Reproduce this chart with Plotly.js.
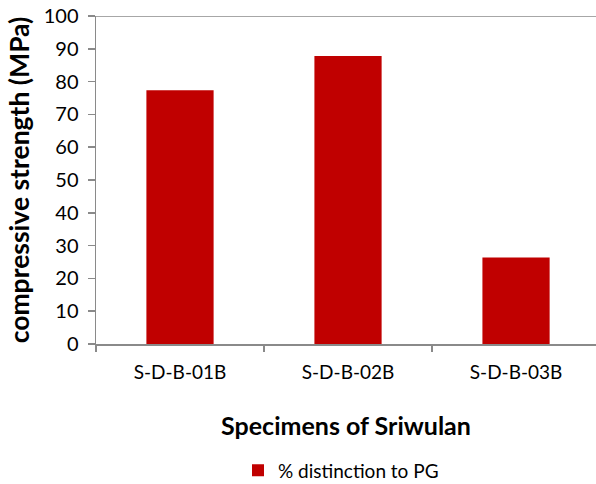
<!DOCTYPE html>
<html>
<head>
<meta charset="utf-8">
<script src="https://cdn.plot.ly/plotly-3.0.1.min.js"></script>
<style>html,body{margin:0;padding:0;background:#fff;}#chart{width:596px;height:484px;}</style>
</head>
<body>
<div id="chart"></div>
<script>
const categories = ["S-D-B-01B", "S-D-B-02B", "S-D-B-03B"];
const values = [77.4, 87.8, 26.4];
const seriesName = "% distinction to PG";
const yTicks = [0, 10, 20, 30, 40, 50, 60, 70, 80, 90, 100];

const FONT = "Lato, 'Open Sans', 'DejaVu Sans', sans-serif";

const data = [{
  type: "bar",
  x: categories,
  y: values,
  name: seriesName,
  marker: {color: "#C00000"},
  showlegend: true,
  hoverinfo: "skip"
}];

const layout = {
  width: 596,
  height: 484,
  margin: {l: 96, r: 0, t: 16, b: 140, autoexpand: false},
  paper_bgcolor: "#ffffff",
  plot_bgcolor: "#ffffff",
  bargap: 0.6,
  font: {family: FONT, color: "#000000", size: 16},
  xaxis: {
    type: "category",
    range: [-0.5, 2.476],
    automargin: false,
    showline: true,
    linecolor: "#8a8a8a",
    linewidth: 1.5,
    ticks: "outside",
    tickson: "boundaries",
    ticklen: 6,
    tickcolor: "#8a8a8a",
    tickwidth: 1.5,
    showgrid: false,
    zeroline: false,
    tickfont: {family: FONT, size: 19, color: "#000"},
    ticklabelstandoff: 11,
    title: {
      text: "<b>Specimens of Sriwulan</b>",
      font: {family: FONT, size: 25, color: "#000"},
      standoff: 35
    }
  },
  yaxis: {
    range: [0, 100],
    tickvals: yTicks,
    automargin: false,
    showline: true,
    linecolor: "#8a8a8a",
    linewidth: 1.5,
    ticks: "outside",
    ticklen: 7,
    tickcolor: "#8a8a8a",
    tickwidth: 1.5,
    showgrid: false,
    zeroline: false,
    tickfont: {family: FONT, size: 20, color: "#000"},
    ticklabelstandoff: 5,
    title: {
      text: "<b>compressive strength (MPa)</b>",
      font: {family: FONT, size: 26.5, color: "#000"},
      standoff: 6
    }
  },
  shapes: [{
    type: "line", xref: "paper", yref: "y",
    x0: 0, x1: 1, y0: 100, y1: 100,
    line: {color: "#8a8a8a", width: 1.5}
  }],
  legend: {
    orientation: "h",
    x: 0.49, xanchor: "center",
    y: -0.385, yanchor: "middle",
    font: {family: FONT, size: 19, color: "#000"},
    itemwidth: 30,
    bgcolor: "rgba(0,0,0,0)"
  }
};

Plotly.newPlot("chart", data, layout, {staticPlot: true, displayModeBar: false});
</script>
</body>
</html>
